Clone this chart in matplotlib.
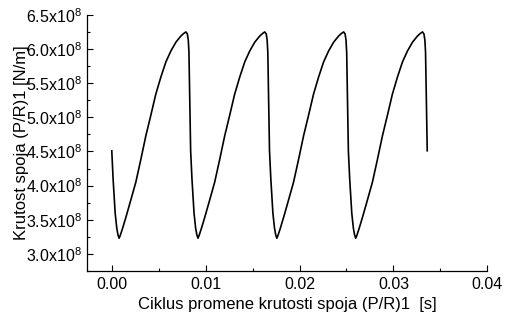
import matplotlib
matplotlib.use("Agg")
import matplotlib.pyplot as plt
from matplotlib.ticker import MultipleLocator, FuncFormatter

plt.rcParams['font.family'] = ['Liberation Sans', 'DejaVu Sans']
plt.rcParams['mathtext.fontset'] = 'custom'
plt.rcParams['mathtext.rm'] = 'Liberation Sans'

# time [s]
t = [0.00000, 0.00014, 0.00036, 0.00053, 0.00066, 0.00078, 0.00090, 0.00114, 0.00149, 0.00203,
     0.00256, 0.00309, 0.00363, 0.00416, 0.00469, 0.00523, 0.00576, 0.00629, 0.00683, 0.00736,
     0.00768, 0.00790, 0.00805, 0.00815, 0.00822,
     0.00840, 0.00854, 0.00876, 0.00893, 0.00906, 0.00918, 0.00930, 0.00954, 0.00989, 0.01043,
     0.01096, 0.01149, 0.01203, 0.01256, 0.01309, 0.01363, 0.01416, 0.01469, 0.01523, 0.01576,
     0.01608, 0.01630, 0.01645, 0.01655, 0.01662,
     0.01680, 0.01694, 0.01716, 0.01733, 0.01746, 0.01758, 0.01770, 0.01794, 0.01829, 0.01883,
     0.01936, 0.01989, 0.02043, 0.02096, 0.02149, 0.02203, 0.02256, 0.02309, 0.02363, 0.02416,
     0.02448, 0.02470, 0.02485, 0.02495, 0.02502,
     0.02520, 0.02534, 0.02556, 0.02573, 0.02586, 0.02598, 0.02610, 0.02634, 0.02669, 0.02723,
     0.02776, 0.02829, 0.02883, 0.02936, 0.02989, 0.03043, 0.03096, 0.03149, 0.03203, 0.03256,
     0.03288, 0.03310, 0.03325, 0.03335, 0.03342,
     0.03360]

# stiffness [N/m] / 1e8
k = [4.51, 4.10, 3.60, 3.38, 3.28, 3.23, 3.27, 3.37, 3.53, 3.79,
     4.05, 4.38, 4.73, 5.03, 5.34, 5.59, 5.81, 5.97, 6.10, 6.19,
     6.23, 6.25, 6.22, 6.13, 5.95,
     4.51, 4.10, 3.60, 3.38, 3.28, 3.23, 3.27, 3.37, 3.53, 3.79,
     4.05, 4.38, 4.73, 5.03, 5.34, 5.59, 5.81, 5.97, 6.10, 6.19,
     6.23, 6.25, 6.22, 6.13, 5.95,
     4.51, 4.10, 3.60, 3.38, 3.28, 3.23, 3.27, 3.37, 3.53, 3.79,
     4.05, 4.38, 4.73, 5.03, 5.34, 5.59, 5.81, 5.97, 6.10, 6.19,
     6.23, 6.25, 6.22, 6.13, 5.95,
     4.51, 4.10, 3.60, 3.38, 3.28, 3.23, 3.27, 3.37, 3.53, 3.79,
     4.05, 4.38, 4.73, 5.03, 5.34, 5.59, 5.81, 5.97, 6.10, 6.19,
     6.23, 6.25, 6.22, 6.13, 5.95,
     4.51]

x_ticks = [0.00, 0.01, 0.02, 0.03, 0.04]
y_ticks = [3.0e8, 3.5e8, 4.0e8, 4.5e8, 5.0e8, 5.5e8, 6.0e8, 6.5e8]

fig = plt.figure(figsize=(5.05, 3.23), dpi=100)
ax = fig.add_axes([0.173, 0.161, 0.792, 0.793])

ax.plot(t, [v * 1e8 for v in k], color='black', lw=1.2)

ax.set_xlim(-0.0026, 0.04)
ax.set_ylim(2.75e8, 6.5e8)
ax.set_xticks(x_ticks)
ax.set_yticks(y_ticks)
ax.xaxis.set_minor_locator(MultipleLocator(0.005))
ax.yaxis.set_minor_locator(MultipleLocator(0.25e8))
ax.xaxis.set_major_formatter(FuncFormatter(lambda v, p: f"{v:.2f}"))
ax.yaxis.set_major_formatter(FuncFormatter(lambda v, p: f"{v/1e8:.1f}x10$^{{8}}$"))

for s in ['top', 'right']:
    ax.spines[s].set_visible(False)
for s in ['left', 'bottom']:
    ax.spines[s].set_linewidth(0.9)

ax.tick_params(which='major', direction='in', length=4, width=0.8, labelsize=11.5, pad=4)
ax.tick_params(which='minor', direction='in', length=2.5, width=0.8)

ax.set_xlabel('Ciklus promene krutosti spoja (P/R)1  [s]', fontsize=12, labelpad=4)
ax.set_ylabel('Krutost spoja (P/R)1 [N/m]', fontsize=12, labelpad=-2)

fig.savefig('out.png', dpi=100)
